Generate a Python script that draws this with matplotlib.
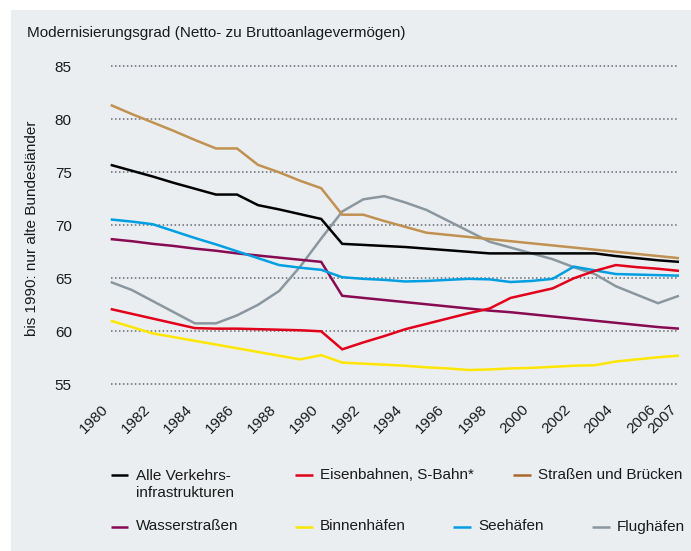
import matplotlib
matplotlib.use("Agg")
import matplotlib.pyplot as plt
from matplotlib.lines import Line2D
from matplotlib.patches import Rectangle

plt.rcParams['font.family'] = ['Liberation Sans', 'DejaVu Sans']

years = list(range(1980, 2008))

# Modernisierungsgrad in %
alle = [75.7, 75.15, 74.6, 74.0, 73.45, 72.9, 72.9, 71.9, 71.5, 71.05,
        70.6, 68.25, 68.15, 68.05, 67.95, 67.8, 67.65, 67.5, 67.35, 67.35,
        67.35, 67.35, 67.35, 67.35, 67.1, 66.9, 66.7, 66.55]
eisenbahn = [62.1, 61.65, 61.2, 60.75, 60.3, 60.25, 60.25, 60.2, 60.15, 60.1,
             60.0, 58.3, 58.95, 59.55, 60.2, 60.7, 61.2, 61.7, 62.15, 63.15,
             63.6, 64.05, 65.0, 65.7, 66.25, 66.05, 65.9, 65.7]
strassen = [81.35, 80.5, 79.7, 78.9, 78.05, 77.25, 77.25, 75.7, 75.0, 74.2,
            73.5, 71.0, 71.0, 70.4, 69.85, 69.3, 69.1, 68.9, 68.7, 68.5,
            68.3, 68.1, 67.9, 67.7, 67.5, 67.3, 67.1, 66.9]
wasser = [68.7, 68.5, 68.25, 68.05, 67.8, 67.6, 67.35, 67.15, 66.95, 66.75,
          66.55, 63.35, 63.15, 62.95, 62.75, 62.55, 62.35, 62.15, 61.95, 61.8,
          61.6, 61.4, 61.2, 61.0, 60.8, 60.6, 60.4, 60.25]
binnen = [61.0, 60.4, 59.8, 59.45, 59.1, 58.75, 58.4, 58.05, 57.7, 57.35,
          57.75, 57.05, 56.95, 56.85, 56.75, 56.6, 56.5, 56.35, 56.4, 56.5,
          56.55, 56.65, 56.75, 56.8, 57.15, 57.35, 57.55, 57.7]
see = [70.55, 70.35, 70.1, 69.45, 68.8, 68.2, 67.55, 66.9, 66.25, 66.0,
       65.8, 65.1, 64.95, 64.85, 64.7, 64.75, 64.85, 64.95, 64.9, 64.65,
       64.75, 64.95, 66.1, 65.75, 65.4, 65.35, 65.3, 65.25]
flug = [64.65, 63.9, 62.85, 61.8, 60.75, 60.75, 61.5, 62.5, 63.8, 66.1,
        68.75, 71.3, 72.45, 72.75, 72.15, 71.45, 70.45, 69.45, 68.45, 67.9,
        67.35, 66.8, 66.05, 65.4, 64.25, 63.45, 62.65, 63.35]

xticks = list(range(1980, 2007, 2)) + [2007]
yticks = [55, 60, 65, 70, 75, 80, 85]

bg = '#ebeef1'
txt = '#1a1a1a'
W, H = 691, 551

fig = plt.figure(figsize=(6.91, 5.51), dpi=100)
fig.patch.set_facecolor('white')
# grey panel behind everything
fig.add_artist(Rectangle((11 / W, 0), 1 - 11 / W, 1 - 10 / H,
                         transform=fig.transFigure, facecolor=bg,
                         edgecolor='none', zorder=-10))

left, right = 110.7, 679.0
top, bottom = 61.0, 389.6
ax = fig.add_axes([left / W, 1 - bottom / H, (right - left) / W, (bottom - top) / H])
ax.set_facecolor('none')

series = [
    (flug, '#8a979f', 'Flughäfen'),
    (wasser, '#870a52', 'Wasserstraßen'),
    (binnen, '#ffe600', 'Binnenhäfen'),
    (see, '#009fe3', 'Seehäfen'),
    (strassen, '#c09150', 'Straßen und Brücken'),
    (eisenbahn, '#e2001a', 'Eisenbahnen, S-Bahn*'),
    (alle, '#000000', 'Alle Verkehrsinfrastrukturen'),
]
for vals, col, lab in series:
    ax.plot(years, vals, color=col, lw=1.8, solid_joinstyle='miter',
            solid_capstyle='butt', clip_on=False, zorder=3)

ax.set_xlim(1980, 2007)
ax.set_ylim(54.5, 85.5)
ax.set_yticks(yticks)
ax.set_xticks(xticks)
ax.set_xticklabels([str(y) for y in xticks], rotation=45, ha='right', va='top')
ax.tick_params(axis='y', length=0, pad=28, labelsize=11, labelcolor=txt)
ax.tick_params(axis='x', length=0, pad=9, labelsize=11, labelcolor=txt)
for lbl in ax.get_yticklabels():
    lbl.set_horizontalalignment('right')
ax.yaxis.grid(True, color='#646b72', lw=1.1, linestyle=(0, (1, 1.6)), zorder=1)
ax.xaxis.grid(False)
for s in ax.spines.values():
    s.set_visible(False)

fig.text(27 / W, 1 - 33 / H, 'Modernisierungsgrad (Netto- zu Bruttoanlagevermögen)',
         fontsize=11, color=txt, ha='left', va='center')
fig.text(32 / W, 1 - 228 / H, 'bis 1990: nur alte Bundesländer', rotation=90,
         fontsize=11, color=txt, ha='center', va='center')

# legend, laid out like the reference
colors = {lab: col for _, col, lab in series}
legend_items = [
    ('Alle Verkehrsinfrastrukturen', 'Alle Verkehrs-\ninfrastrukturen', 110.7, 136, 475),
    ('Eisenbahnen, S-Bahn*', 'Eisenbahnen, S-Bahn*', 295, 320, 475),
    ('Straßen und Brücken', 'Straßen und Brücken', 513.3, 538, 475),
    ('Wasserstraßen', 'Wasserstraßen', 110.7, 136, 526.5),
    ('Binnenhäfen', 'Binnenhäfen', 295, 320, 526.5),
    ('Seehäfen', 'Seehäfen', 453.3, 478, 526.5),
    ('Flughäfen', 'Flughäfen', 592.3, 617, 526.5),
]
for key, label, hx, tx, y in legend_items:
    col = colors[key]
    if key == 'Straßen und Brücken':
        col = '#a8682a'
    fig.add_artist(Line2D([hx / W, (hx + 17.5) / W], [1 - y / H, 1 - y / H],
                          transform=fig.transFigure, color=col, lw=1.8,
                          solid_capstyle='butt'))
    if '\n' in label:
        fig.text(tx / W, 1 - (y + 9.5) / H, label, fontsize=11, color=txt,
                 ha='left', va='center', linespacing=1.25)
    else:
        fig.text(tx / W, 1 - y / H, label, fontsize=11, color=txt,
                 ha='left', va='center')

fig.savefig('out.png', dpi=100, facecolor=fig.get_facecolor())
